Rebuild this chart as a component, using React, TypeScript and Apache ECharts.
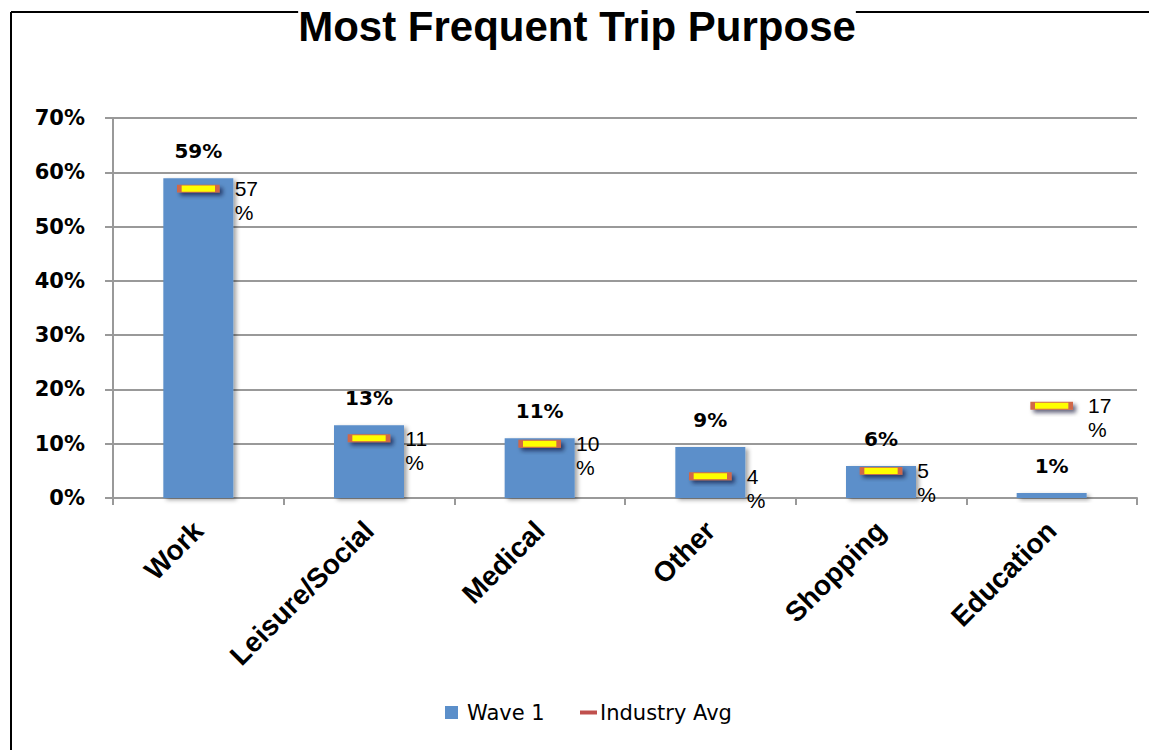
import React, { useEffect, useRef } from "react";
import * as echarts from "echarts";

const categories = ["Work", "Leisure/Social", "Medical", "Other", "Shopping", "Education"];
const wave1 = [58.9, 13.4, 11.0, 9.4, 5.9, 0.9];
const industryAvg = [57, 11, 10, 4, 5, 17];
const titleText = "Most Frequent Trip Purpose";

export default function App() {
  const ref = useRef<HTMLDivElement>(null);
  useEffect(() => {
    if (!ref.current) return;
    const chart = echarts.init(ref.current, null, { renderer: "svg" });
    const arial = "Arial, 'Liberation Sans', sans-serif";
    const wide = "'DejaVu Sans', Arial, sans-serif";
    chart.setOption({
      animation: false,
      backgroundColor: "#ffffff",
      textStyle: { fontFamily: arial },
      graphic: [
        { type: "line", z: 0, shape: { x1: 11, y1: 12, x2: 1149, y2: 12 }, style: { stroke: "#000", lineWidth: 2 } },
        { type: "line", z: 0, shape: { x1: 11, y1: 12, x2: 11, y2: 750 }, style: { stroke: "#000", lineWidth: 2 } },
      ],
      title: {
        text: titleText,
        left: 577,
        textAlign: "center",
        top: 3,
        padding: 0,
        backgroundColor: "#ffffff",
        textStyle: { fontFamily: arial, fontSize: 42, lineHeight: 46, fontWeight: "bold", color: "#000" },
        z: 10,
      },
      legend: [
        {
          data: ["Wave 1"],
          left: 445,
          top: 702,
          padding: 0,
          itemWidth: 13,
          itemHeight: 13,
          icon: "rect",
          textStyle: { fontFamily: wide, fontSize: 21, color: "#000", padding: [0, 0, 0, 4] },
        },
        {
          data: [{ name: "Industry Avg", icon: "rect", itemStyle: { color: "#C0504D", borderWidth: 0, shadowBlur: 0 } }],
          left: 580,
          top: 702,
          padding: 0,
          itemWidth: 17,
          itemHeight: 4,
          textStyle: { fontFamily: wide, fontSize: 21, color: "#000", padding: [0, 0, 0, -2] },
        },
      ],
      grid: { left: 113, right: 12, top: 118, bottom: 252 },
      xAxis: {
        type: "category",
        data: categories,
        axisLine: { lineStyle: { color: "#999", width: 2 } },
        axisTick: { show: true, length: 7, lineStyle: { color: "#999", width: 2 } },
        axisLabel: {
          rotate: 45,
          margin: 28,
          fontFamily: arial,
          fontSize: 28,
          fontWeight: "bold",
          color: "#000",
          interval: 0,
        },
      },
      yAxis: {
        type: "value",
        min: 0,
        max: 70,
        interval: 10,
        axisLine: { show: true, lineStyle: { color: "#999", width: 2 } },
        axisTick: { show: true, length: 8, lineStyle: { color: "#999", width: 2 } },
        splitLine: { lineStyle: { color: "#999", width: 2 } },
        axisLabel: {
          formatter: "{value}%",
          margin: 28,
          fontFamily: wide,
          fontSize: 21,
          fontWeight: "bold",
          color: "#000",
        },
      },
      series: [
        {
          name: "Wave 1",
          type: "bar",
          data: wave1,
          barWidth: 70,
          itemStyle: {
            color: "#5B8FCA",
            shadowColor: "rgba(0,0,0,0.35)",
            shadowBlur: 4,
            shadowOffsetX: 3,
            shadowOffsetY: 2,
          },
          label: {
            show: true,
            position: "top",
            distance: 17,
            formatter: (p: any) => Math.round(p.value) + "%",
            fontFamily: wide,
            fontSize: 20,
            fontWeight: "bold",
            color: "#000",
          },
          z: 2,
        },
        {
          name: "Industry Avg",
          type: "scatter",
          data: industryAvg,
          symbol: "rect",
          symbolSize: [38, 7],
          itemStyle: {
            color: "#FFFF00",
            borderColor: "#D0684A",
            borderWidth: 2,
            shadowColor: "rgba(0,0,40,0.6)",
            shadowBlur: 4,
            shadowOffsetX: 3,
            shadowOffsetY: 3,
            opacity: 1,
          },
          label: {
            show: true,
            position: "right",
            distance: 15,
            offset: [0, 12],
            formatter: (p: any) => p.value + "\n%",
            fontFamily: arial,
            fontSize: 21,
            lineHeight: 24,
            color: "#000",
          },
          z: 5,
        },
      ],
    });
    return () => chart.dispose();
  }, []);
  return (
    <div
      ref={ref}
      style={{ position: "absolute", left: 0, top: 0, width: 1149, height: 750 }}
    />
  );
}
